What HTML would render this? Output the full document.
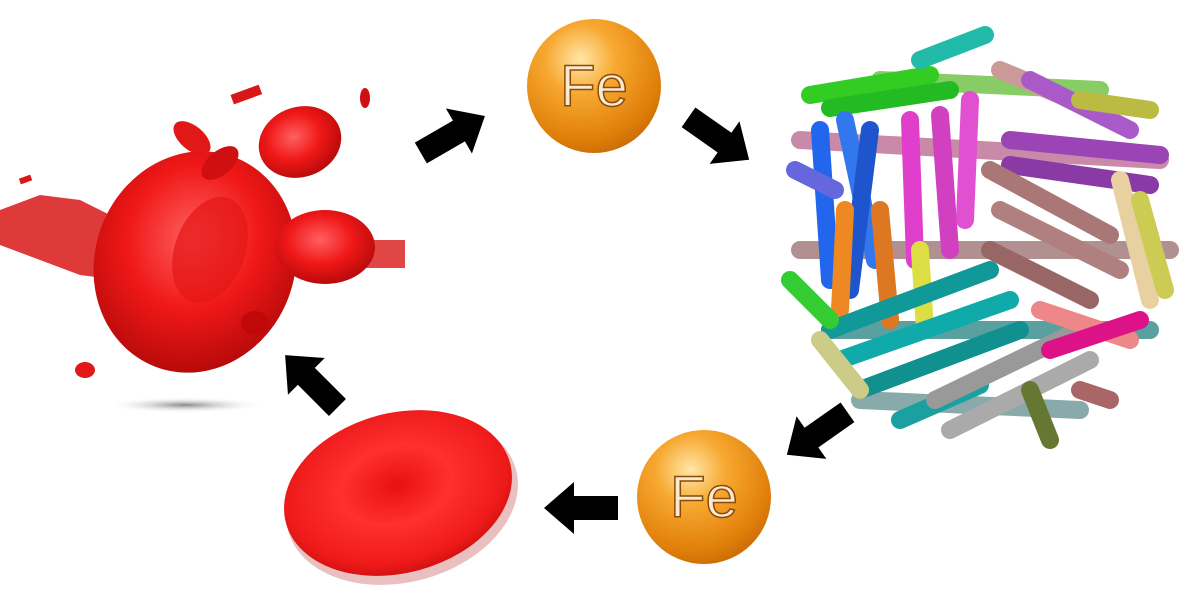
<!DOCTYPE html>
<html><head><meta charset="utf-8"><style>html,body{margin:0;padding:0;background:#fff}svg{display:block}</style></head>
<body>
<svg width="1200" height="590" viewBox="0 0 1200 590" xmlns="http://www.w3.org/2000/svg">
<defs>
<radialGradient id="fe" cx="0.4" cy="0.3" r="0.75">
<stop offset="0" stop-color="#ffe7a8"/><stop offset="0.35" stop-color="#f7a830"/><stop offset="0.8" stop-color="#e07f0a"/><stop offset="1" stop-color="#c86a05"/></radialGradient>
<radialGradient id="rbc" cx="0.45" cy="0.4" r="0.65">
<stop offset="0" stop-color="#ff6060"/><stop offset="0.5" stop-color="#f01818"/><stop offset="1" stop-color="#b00808"/></radialGradient>
<radialGradient id="rbc2" cx="0.5" cy="0.45" r="0.6">
<stop offset="0" stop-color="#e81010"/><stop offset="0.4" stop-color="#ff3030"/><stop offset="0.8" stop-color="#ee1a1a"/><stop offset="1" stop-color="#c00a0a"/></radialGradient>
<radialGradient id="sh" cx="0.5" cy="0.5" r="0.5"><stop offset="0" stop-color="#888"/><stop offset="1" stop-color="#fff" stop-opacity="0"/></radialGradient>
<g id="arr"><rect x="-36" y="-12" width="46" height="24"/><polygon points="8,-26 38,0 8,26"/></g>
</defs>
<rect width="1200" height="590" fill="#fff"/>
<!-- left cells -->
<ellipse cx="185" cy="405" rx="80" ry="8" fill="url(#sh)"/>
<g fill="#d81818">
<polygon points="0,210 40,195 80,200 120,220 140,250 120,280 80,275 40,260 0,245" opacity="0.85"/>
<rect x="20" y="175" width="12" height="6" transform="rotate(-20 30 180)"/>
<rect x="230" y="88" width="30" height="10" transform="rotate(-20 250 90)"/>
<rect x="360" y="240" width="45" height="28" opacity="0.8"/>
</g>
<ellipse cx="195" cy="262" rx="100" ry="112" transform="rotate(20 195 262)" fill="url(#rbc)"/>
<ellipse cx="210" cy="250" rx="35" ry="55" transform="rotate(20 210 250)" fill="#e41515" opacity="0.7"/>
<ellipse cx="300" cy="142" rx="42" ry="35" transform="rotate(-20 300 142)" fill="url(#rbc)"/>
<ellipse cx="325" cy="247" rx="50" ry="37" fill="url(#rbc)"/>
<ellipse cx="192" cy="138" rx="12" ry="22" transform="rotate(-50 192 138)" fill="#e01818"/>
<ellipse cx="220" cy="163" rx="12" ry="22" transform="rotate(50 220 163)" fill="#d01010"/>
<ellipse cx="255" cy="323" rx="14" ry="12" fill="#c00808"/>
<ellipse cx="85" cy="370" rx="10" ry="8" fill="#e01818"/>
<ellipse cx="365" cy="98" rx="5" ry="10" fill="#d01010"/>
<!-- red cell bottom -->
<ellipse cx="402" cy="500" rx="118" ry="82" transform="rotate(-15 402 500)" fill="#a80000" opacity="0.25"/>
<ellipse cx="398" cy="493" rx="116" ry="80" transform="rotate(-15 398 493)" fill="url(#rbc2)"/>
<!-- Fe spheres -->
<circle cx="594" cy="86" r="67" fill="url(#fe)"/>
<text x="594" y="106" text-anchor="middle" font-family="Liberation Sans, sans-serif" font-size="58" fill="#fbead0" stroke="#8a4a08" stroke-width="1.5">Fe</text>
<circle cx="704" cy="497" r="67" fill="url(#fe)"/>
<text x="704" y="517" text-anchor="middle" font-family="Liberation Sans, sans-serif" font-size="58" fill="#fbead0" stroke="#8a4a08" stroke-width="1.5">Fe</text>
<!-- arrows -->
<g fill="#000">
<use href="#arr" transform="translate(452,135) rotate(-30)"/>
<use href="#arr" transform="translate(718,138) rotate(35)"/>
<use href="#arr" transform="translate(818,433) rotate(145)"/>
<use href="#arr" transform="translate(582,508) rotate(180)"/>
<use href="#arr" transform="translate(312,382) rotate(-135)"/>
</g>
<!-- ferritin -->
<g stroke-linecap="round" stroke-width="18" fill="none">
<line x1="800" y1="140" x2="1160" y2="160" stroke="#c88aa8"/>
<line x1="800" y1="250" x2="1170" y2="250" stroke="#b09090"/>
<line x1="830" y1="330" x2="1150" y2="330" stroke="#5aa0a0"/>
<line x1="880" y1="80" x2="1100" y2="90" stroke="#88cc66"/>
<line x1="860" y1="400" x2="1080" y2="410" stroke="#8aa"/>
<line x1="810" y1="95" x2="930" y2="75" stroke="#33cc22"/>
<line x1="830" y1="108" x2="950" y2="90" stroke="#22bb22"/>
<line x1="920" y1="60" x2="985" y2="35" stroke="#22bbaa"/>
<line x1="1000" y1="70" x2="1060" y2="95" stroke="#cc9999"/>
<line x1="1030" y1="80" x2="1130" y2="130" stroke="#aa5ac8"/>
<line x1="1010" y1="140" x2="1160" y2="155" stroke="#9a44b5"/>
<line x1="1010" y1="165" x2="1150" y2="185" stroke="#8a3aa5"/>
<line x1="1080" y1="100" x2="1150" y2="110" stroke="#bbbb44"/>
<line x1="820" y1="130" x2="830" y2="280" stroke="#2266ee"/>
<line x1="845" y1="120" x2="875" y2="260" stroke="#3377ee"/>
<line x1="870" y1="130" x2="850" y2="290" stroke="#1e55cc"/>
<line x1="910" y1="120" x2="915" y2="260" stroke="#e03fcc"/>
<line x1="940" y1="115" x2="950" y2="250" stroke="#d040c0"/>
<line x1="970" y1="100" x2="965" y2="220" stroke="#e050d0"/>
<line x1="795" y1="170" x2="835" y2="190" stroke="#6666dd"/>
<line x1="845" y1="210" x2="840" y2="310" stroke="#ee8822"/>
<line x1="880" y1="210" x2="890" y2="320" stroke="#dd7722"/>
<line x1="920" y1="250" x2="925" y2="330" stroke="#dddd44"/>
<line x1="990" y1="170" x2="1110" y2="235" stroke="#aa7777"/>
<line x1="1000" y1="210" x2="1120" y2="270" stroke="#b08080"/>
<line x1="990" y1="250" x2="1090" y2="300" stroke="#996666"/>
<line x1="1120" y1="180" x2="1150" y2="300" stroke="#e8d0a0"/>
<line x1="1140" y1="200" x2="1165" y2="290" stroke="#cccc55"/>
<line x1="830" y1="330" x2="990" y2="270" stroke="#119999"/>
<line x1="840" y1="360" x2="1010" y2="300" stroke="#11aaaa"/>
<line x1="860" y1="390" x2="1020" y2="330" stroke="#119090"/>
<line x1="900" y1="420" x2="980" y2="385" stroke="#1aa0a0"/>
<line x1="935" y1="400" x2="1080" y2="330" stroke="#999999"/>
<line x1="950" y1="430" x2="1090" y2="360" stroke="#aaaaaa"/>
<line x1="1040" y1="310" x2="1130" y2="340" stroke="#ee8888"/>
<line x1="1050" y1="350" x2="1140" y2="320" stroke="#dd1188"/>
<line x1="1030" y1="390" x2="1050" y2="440" stroke="#667733"/>
<line x1="820" y1="340" x2="860" y2="390" stroke="#cccc88"/>
<line x1="790" y1="280" x2="830" y2="320" stroke="#33cc33"/>
<line x1="1080" y1="390" x2="1110" y2="400" stroke="#aa6666"/>
</g>
</svg>
</body></html>
